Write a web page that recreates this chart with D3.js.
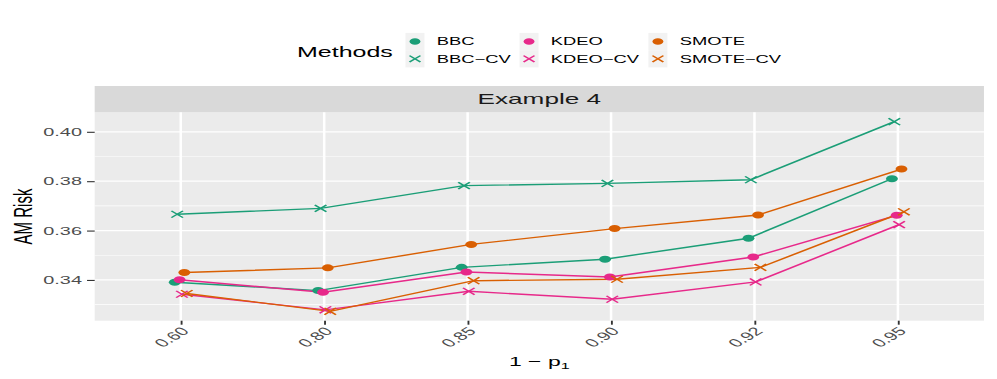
<!DOCTYPE html>
<html>
<head>
<meta charset="utf-8">
<script src="https://cdn.jsdelivr.net/npm/d3@7"></script>
<style>
  html, body { margin: 0; padding: 0; background: #fff; }
  svg { display: block; font-family: "Liberation Sans", Arial, sans-serif; }
</style>
</head>
<body>
<div id="chart"></div>
<script>
// x categories (1 - p1) and methods
const xLabels = ['0.60', '0.80', '0.85', '0.90', '0.92', '0.95'];
const methods = ['BBC', 'BBC-CV', 'KDEO', 'KDEO-CV', 'SMOTE', 'SMOTE-CV'];

// AM risk per method
const bbc     = [0.3391, 0.3357, 0.3451, 0.3484, 0.3569, 0.3810];
const bbcCv   = [0.3666, 0.3690, 0.3782, 0.3791, 0.3806, 0.4041];
const kdeo    = [0.3401, 0.3350, 0.3432, 0.3412, 0.3493, 0.3662];
const kdeoCv  = [0.3342, 0.3279, 0.3354, 0.3322, 0.3392, 0.3624];
const smote   = [0.3430, 0.3449, 0.3544, 0.3608, 0.3663, 0.3849];
const smoteCv = [0.3345, 0.3273, 0.3397, 0.3403, 0.3451, 0.3676];

const yTicks      = [0.34, 0.36, 0.38, 0.40];
const yMinorTicks = [0.33, 0.35, 0.37, 0.39];

const seriesValues = [bbc, bbcCv, kdeo, kdeoCv, smote, smoteCv];
const colors  = ['#1B9E77', '#1B9E77', '#E7298A', '#E7298A', '#D95F02', '#D95F02'];
const isCross = [false, true, false, true, false, true];

// the reference is stretched sideways, so draw narrow and let the viewBox widen it
const S = 1.7;
const W = 997 / S, H = 379;
const panel = { left: 55.7, right: 578.8, top: 112.3, bottom: 320.7 };
const stripTop = 86;

const svg = d3.select('#chart')
  .append('svg')
  .attr('width', 997)
  .attr('height', H)
  .attr('viewBox', `0 0 ${W} ${H}`)
  .attr('preserveAspectRatio', 'none');

const x = d3.scalePoint().domain(xLabels).range([panel.left, panel.right]).padding(0.6);
const y = d3.scaleLinear().domain([0.3235, 0.4079]).range([panel.bottom, panel.top]);

// dodge width 0.1 shared by 6 groups
const dodge = i => (i - 2.5) * (0.1 / 6) * x.step();

// panel + strip
svg.append('rect')
  .attr('x', panel.left).attr('y', panel.top)
  .attr('width', panel.right - panel.left).attr('height', panel.bottom - panel.top)
  .attr('fill', '#ebebeb');

svg.append('rect')
  .attr('x', panel.left).attr('y', stripTop)
  .attr('width', panel.right - panel.left).attr('height', panel.top - stripTop)
  .attr('fill', '#d9d9d9');

svg.append('text')
  .attr('x', (panel.left + panel.right) / 2).attr('y', 104.5)
  .attr('text-anchor', 'middle')
  .attr('font-size', 15.4).attr('fill', '#1a1a1a')
  .text('Example 4');

// grid
const grid = svg.append('g');
grid.selectAll('.minor').data(yMinorTicks).join('line')
  .attr('x1', panel.left).attr('x2', panel.right)
  .attr('y1', d => y(d)).attr('y2', d => y(d))
  .attr('stroke', '#fff').attr('stroke-width', 0.7);
grid.selectAll('.major').data(yTicks).join('line')
  .attr('x1', panel.left).attr('x2', panel.right)
  .attr('y1', d => y(d)).attr('y2', d => y(d))
  .attr('stroke', '#fff').attr('stroke-width', 1.3);
grid.selectAll('.vmajor').data(xLabels).join('line')
  .attr('x1', d => x(d)).attr('x2', d => x(d))
  .attr('y1', panel.top).attr('y2', panel.bottom)
  .attr('stroke', '#fff').attr('stroke-width', 1.5);

// y axis
const yAxis = svg.append('g')
  .attr('transform', `translate(${panel.left},0)`)
  .call(d3.axisLeft(y).tickValues(yTicks).tickFormat(d3.format('.2f')).tickSize(4.5).tickPadding(3));
yAxis.select('.domain').remove();
yAxis.selectAll('.tick line').attr('stroke', '#333').attr('stroke-width', 1.1);
yAxis.selectAll('.tick text')
  .attr('fill', '#4d4d4d').attr('font-size', 11.7)
  .attr('font-family', '"Liberation Sans", Arial, sans-serif');

// x axis
const xAxis = svg.append('g')
  .attr('transform', `translate(0,${panel.bottom})`)
  .call(d3.axisBottom(x).tickSize(4).tickFormat(''));
xAxis.select('.domain').remove();
xAxis.selectAll('.tick line').attr('stroke', '#333').attr('stroke-width', 1.1);

svg.append('g').selectAll('text').data(xLabels).join('text')
  .attr('transform', d => `translate(${x(d) + 5.5},332) rotate(-45)`)
  .attr('text-anchor', 'end')
  .attr('font-size', 11.7).attr('fill', '#4d4d4d')
  .text(d => d);

// axis titles
const xTitle = svg.append('text')
  .attr('x', (panel.left + panel.right) / 2).attr('y', 366.5)
  .attr('text-anchor', 'middle')
  .attr('font-size', 13.5).attr('fill', '#000');
xTitle.append('tspan').text('1 \u2212 p');
xTitle.append('tspan').attr('font-size', 9.5).attr('dy', 3).text('1');

svg.append('text')
  .attr('transform', `translate(18.8,${(panel.top + panel.bottom) / 2}) rotate(-90)`)
  .attr('text-anchor', 'middle')
  .attr('font-size', 15).attr('fill', '#000')
  .text('AM Risk');

// marks
const symbol = (g, i, r) => {
  if (isCross[i]) {
    g.append('path')
      .attr('d', `M${-r},${-r}L${r},${r}M${-r},${r}L${r},${-r}`)
      .attr('stroke', colors[i]).attr('stroke-width', 1.2).attr('fill', 'none');
  } else {
    g.append('circle').attr('r', r).attr('fill', colors[i]);
  }
};

const line = d3.line().x(d => d[0]).y(d => d[1]);
const pts = seriesValues.map((vals, i) => vals.map((v, j) => [x(xLabels[j]) + dodge(i), y(v)]));

svg.append('g').selectAll('path').data(pts).join('path')
  .attr('d', line)
  .attr('fill', 'none')
  .attr('stroke', (d, i) => colors[i])
  .attr('stroke-width', 1.4);

pts.forEach((p, i) => {
  p.forEach(([px, py]) => {
    const g = svg.append('g').attr('transform', `translate(${px},${py})`);
    symbol(g, i, isCross[i] ? 3.4 : 3.5);
  });
});

// legend
svg.append('text')
  .attr('x', 174.7).attr('y', 57)
  .attr('font-size', 14.7).attr('fill', '#000')
  .text('Methods');

const keyX = [244.1, 311.2, 387];
const rowY = [41.5, 58.8];
const legend = svg.append('g');
methods.forEach((m, i) => {
  const cx = keyX[Math.floor(i / 2)], cy = rowY[i % 2];
  legend.append('rect')
    .attr('x', cx - 5.6).attr('y', cy - 8.6)
    .attr('width', 11.2).attr('height', 17.2)
    .attr('fill', '#f2f2f2');
  const g = legend.append('g').attr('transform', `translate(${cx},${cy})`);
  symbol(g, i, isCross[i] ? 3.2 : 3.2);
  legend.append('text')
    .attr('x', cx + 12.8).attr('y', cy + 4)
    .attr('font-size', 10.8).attr('fill', '#000')
    .text(m.replace('-', '\u2212'));
});
</script>
</body>
</html>
